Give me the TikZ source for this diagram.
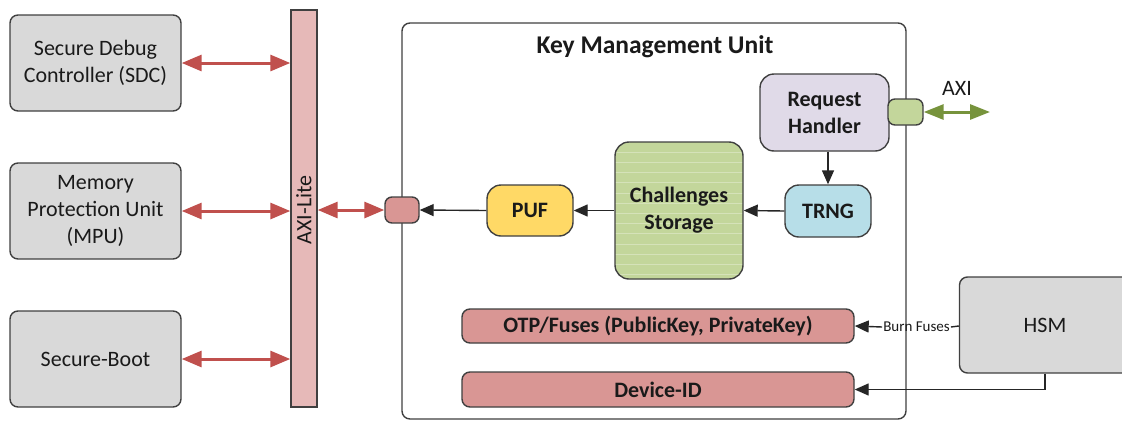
\documentclass[tikz,border=0pt]{standalone}
\usepackage{fontspec}
\setmainfont{Carlito}
\usetikzlibrary{arrows.meta}
\definecolor{edge}{HTML}{404040}
\definecolor{txt}{HTML}{1A1A1A}
\definecolor{greybox}{HTML}{D9D9D9}
\definecolor{busfill}{HTML}{E6B9B8}
\definecolor{busred}{HTML}{C0504D}
\definecolor{regred}{HTML}{D99694}
\definecolor{pufyel}{HTML}{FFD966}
\definecolor{chalgrn}{HTML}{C3D69B}
\definecolor{reqlav}{HTML}{E0DAE8}
\definecolor{trngblu}{HTML}{B7DEE8}
\definecolor{axigrn}{HTML}{77933C}
\definecolor{wire}{HTML}{262626}
\tikzset{
  lbl/.style={font=\fontsize{22}{27}\selectfont, align=center, text=txt},
  blk/.style={lbl, draw=edge, line width=1.4pt, inner sep=0pt},
  outer/.style={blk, fill=greybox, rounded corners=8pt, minimum width=171pt, minimum height=96pt},
  inbox/.style={blk, rounded corners=14pt, font=\fontsize{22}{27}\selectfont\bfseries},
  regbar/.style={blk, fill=regred, rounded corners=8pt, minimum width=392pt, font=\fontsize{22}{27}\selectfont\bfseries},
  portbox/.style={blk, rounded corners=7pt, minimum width=34pt, minimum height=26pt},
  busarrow/.style={busred, line width=3pt, {Triangle[length=20pt,width=16pt]}-{Triangle[length=20pt,width=16pt]}},
  grnarrow/.style={axigrn, line width=3pt, {Triangle[length=20pt,width=15pt]}-{Triangle[length=20pt,width=15pt]}},
  blkarrow/.style={wire, line width=1.4pt, -{Triangle[length=14pt,width=12pt]}},
  stripes/.style={path picture={
    \foreach \k in {1,...,13}
      \draw[white, opacity=.3, line width=.8pt]
        ([yshift=-\k*10.2pt]path picture bounding box.north west) --
        ([yshift=-\k*10.2pt]path picture bounding box.north east);}}
}
\begin{document}
\begin{tikzpicture}[x=1pt,y=-1pt]
\useasboundingbox (0,0) rectangle (1122,421);
\clip (0,0) rectangle (1122,421);

% peripherals on the left
\node[outer] (sdc)  at (95.5,63)  {Secure Debug\\Controller (SDC)};
\node[outer] (mpu)  at (95.5,211) {Memory\\Protection Unit\\(MPU)};
\node[outer] (boot) at (95.5,359) {Secure-Boot};

% AXI-Lite bus
\node[blk, fill=busfill, minimum width=26pt, minimum height=397pt] (axil) at (304,208.5) {};
\node[lbl, rotate=90] (axiltxt) at (304,210) {AXI-Lite};

% key management unit frame
\node[blk, fill=white, rounded corners=8pt, minimum width=504pt, minimum height=396pt] (kmu) at (654,221) {};
\node[lbl, font=\fontsize{25.5}{30}\selectfont\bfseries] (title) at (655,47) {Key Management Unit};

% inner blocks
\node[inbox, fill=pufyel, minimum width=86pt, minimum height=51pt] (puf) at (530,210.5) {PUF};
\node[inbox, fill=chalgrn, stripes, minimum width=128pt, minimum height=137pt] (chal) at (679,210.5) {Challenges\\Storage};
\node[inbox, fill=trngblu, minimum width=86pt, minimum height=52pt] (trng) at (828,211) {TRNG};
\node[inbox, fill=reqlav, minimum width=129pt, minimum height=77pt] (rh) at (824.5,112.5) {Request\\Handler};
\node[regbar, minimum height=34pt] (otp) at (658,326) {OTP/Fuses (PublicKey, PrivateKey)};
\node[regbar, minimum height=35pt] (devid) at (658,389.5) {Device-ID};

% ports on the frame
\node[portbox, fill=regred] (port) at (402,210) {};
\node[portbox, fill=chalgrn, minimum width=35pt] (axiport) at (905.5,112) {};

% hardware security module
\node[outer] (hsm) at (1045,325) {HSM};

% bus connections
\draw[busarrow] (sdc.east)  -- (sdc.east -| axil.west);
\draw[busarrow] (mpu.east)  -- (mpu.east -| axil.west);
\draw[busarrow] (boot.east) -- (boot.east -| axil.west);
\draw[busarrow] (port.west -| axil.east) -- (port.west);

% external AXI
\coordinate (axiend) at (990,112);
\draw[grnarrow] (axiport.east) -- (axiend);
\node[lbl] (axitxt) at (957,88) {AXI};

% data path inside the unit
\draw[blkarrow] (puf.west) -- (port.east);
\draw[blkarrow] (chal.west) -- (puf.east);
\draw[blkarrow] (trng.west) -- (chal.east);
\draw[blkarrow] (rh.south -| trng.north) -- (trng.north);

% HSM links
\node[lbl, font=\fontsize{15}{16}\selectfont, inner sep=1pt] (bf) at (916.5,327) {Burn Fuses};
\draw[wire, line width=1.4pt] (hsm.west |- otp.east) -- (bf.east);
\draw[blkarrow] (bf.west) -- (otp.east);
\draw[blkarrow] (hsm.south) |- (devid.east);
\end{tikzpicture}
\end{document}
